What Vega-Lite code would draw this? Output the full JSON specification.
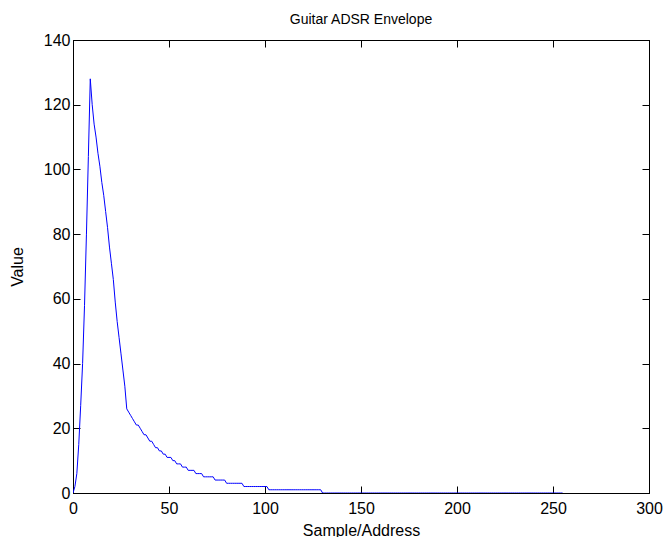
{
  "$schema": "https://vega.github.io/schema/vega-lite/v6.json",
  "autosize": "none",
  "width": 576,
  "height": 453,
  "padding": {"left": 73, "top": 40, "right": 16, "bottom": 44},
  "background": "white",
  "title": {"text": "Guitar ADSR Envelope", "fontSize": 14, "fontWeight": "normal", "font": "Liberation Sans", "color": "black", "anchor": "middle", "baseline": "alphabetic", "offset": -6},
  "config": {
    "font": "Liberation Sans",
    "view": {"stroke": "black", "strokeWidth": 1},
    "axis": {"grid": false, "domainColor": "black", "tickColor": "black", "labelColor": "black", "titleColor": "black", "labelFontSize": 16, "titleFontSize": 16, "titleFontWeight": "normal", "tickSize": -7, "domainWidth": 1, "tickWidth": 1, "labelFlush": false, "labelOverlap": false}
  },
  "data": {"values": [
    {"s":0,"v":0},{"s":1,"v":2},{"s":2,"v":6},{"s":3,"v":15},{"s":4,"v":27},{"s":5,"v":40},{"s":6,"v":58},{"s":7,"v":80},{"s":8,"v":104},{"s":9,"v":128},
    {"s":10,"v":120},{"s":11,"v":114},{"s":12,"v":110},{"s":13,"v":105},{"s":14,"v":101},{"s":15,"v":96},{"s":16,"v":92},{"s":17,"v":87},{"s":18,"v":82},{"s":19,"v":76},
    {"s":20,"v":71},{"s":21,"v":66},{"s":22,"v":59},{"s":23,"v":53},{"s":24,"v":48},{"s":25,"v":43},{"s":26,"v":38},{"s":27,"v":33},{"s":28,"v":26},{"s":29,"v":25},
    {"s":30,"v":24},{"s":31,"v":23},{"s":32,"v":22},{"s":33,"v":21},{"s":34,"v":21},{"s":35,"v":20},{"s":36,"v":19},{"s":37,"v":18},{"s":38,"v":18},{"s":39,"v":17},
    {"s":40,"v":16},{"s":41,"v":16},{"s":42,"v":15},{"s":43,"v":14},{"s":44,"v":14},{"s":45,"v":13},{"s":46,"v":13},{"s":47,"v":12},{"s":48,"v":12},{"s":49,"v":11},
    {"s":50,"v":11},{"s":51,"v":11},{"s":52,"v":10},{"s":53,"v":10},{"s":54,"v":9},{"s":55,"v":9},{"s":56,"v":9},{"s":57,"v":8},{"s":58,"v":8},{"s":59,"v":8},
    {"s":60,"v":7},{"s":61,"v":7},{"s":62,"v":7},{"s":63,"v":7},{"s":64,"v":6},{"s":65,"v":6},{"s":66,"v":6},{"s":67,"v":6},{"s":68,"v":5},{"s":69,"v":5},
    {"s":70,"v":5},{"s":71,"v":5},{"s":72,"v":5},{"s":73,"v":5},{"s":74,"v":4},{"s":75,"v":4},{"s":76,"v":4},{"s":77,"v":4},{"s":78,"v":4},{"s":79,"v":4},
    {"s":80,"v":3},{"s":81,"v":3},{"s":82,"v":3},{"s":83,"v":3},{"s":84,"v":3},{"s":85,"v":3},{"s":86,"v":3},{"s":87,"v":3},{"s":88,"v":3},{"s":89,"v":2},
    {"s":90,"v":2},{"s":91,"v":2},{"s":92,"v":2},{"s":93,"v":2},{"s":94,"v":2},{"s":95,"v":2},{"s":96,"v":2},{"s":97,"v":2},{"s":98,"v":2},{"s":99,"v":2},
    {"s":100,"v":2},{"s":101,"v":2},{"s":102,"v":1},{"s":103,"v":1},{"s":104,"v":1},{"s":105,"v":1},{"s":106,"v":1},{"s":107,"v":1},{"s":108,"v":1},{"s":109,"v":1},
    {"s":110,"v":1},{"s":111,"v":1},{"s":112,"v":1},{"s":113,"v":1},{"s":114,"v":1},{"s":115,"v":1},{"s":116,"v":1},{"s":117,"v":1},{"s":118,"v":1},{"s":119,"v":1},
    {"s":120,"v":1},{"s":121,"v":1},{"s":122,"v":1},{"s":123,"v":1},{"s":124,"v":1},{"s":125,"v":1},{"s":126,"v":1},{"s":127,"v":1},{"s":128,"v":1},{"s":129,"v":1},
    {"s":130,"v":0},{"s":131,"v":0},{"s":132,"v":0},{"s":133,"v":0},{"s":134,"v":0},{"s":135,"v":0},{"s":136,"v":0},{"s":137,"v":0},{"s":138,"v":0},{"s":139,"v":0},
    {"s":140,"v":0},{"s":141,"v":0},{"s":142,"v":0},{"s":143,"v":0},{"s":144,"v":0},{"s":145,"v":0},{"s":146,"v":0},{"s":147,"v":0},{"s":148,"v":0},{"s":149,"v":0},
    {"s":150,"v":0},{"s":151,"v":0},{"s":152,"v":0},{"s":153,"v":0},{"s":154,"v":0},{"s":155,"v":0},{"s":156,"v":0},{"s":157,"v":0},{"s":158,"v":0},{"s":159,"v":0},
    {"s":160,"v":0},{"s":161,"v":0},{"s":162,"v":0},{"s":163,"v":0},{"s":164,"v":0},{"s":165,"v":0},{"s":166,"v":0},{"s":167,"v":0},{"s":168,"v":0},{"s":169,"v":0},
    {"s":170,"v":0},{"s":171,"v":0},{"s":172,"v":0},{"s":173,"v":0},{"s":174,"v":0},{"s":175,"v":0},{"s":176,"v":0},{"s":177,"v":0},{"s":178,"v":0},{"s":179,"v":0},
    {"s":180,"v":0},{"s":181,"v":0},{"s":182,"v":0},{"s":183,"v":0},{"s":184,"v":0},{"s":185,"v":0},{"s":186,"v":0},{"s":187,"v":0},{"s":188,"v":0},{"s":189,"v":0},
    {"s":190,"v":0},{"s":191,"v":0},{"s":192,"v":0},{"s":193,"v":0},{"s":194,"v":0},{"s":195,"v":0},{"s":196,"v":0},{"s":197,"v":0},{"s":198,"v":0},{"s":199,"v":0},
    {"s":200,"v":0},{"s":201,"v":0},{"s":202,"v":0},{"s":203,"v":0},{"s":204,"v":0},{"s":205,"v":0},{"s":206,"v":0},{"s":207,"v":0},{"s":208,"v":0},{"s":209,"v":0},
    {"s":210,"v":0},{"s":211,"v":0},{"s":212,"v":0},{"s":213,"v":0},{"s":214,"v":0},{"s":215,"v":0},{"s":216,"v":0},{"s":217,"v":0},{"s":218,"v":0},{"s":219,"v":0},
    {"s":220,"v":0},{"s":221,"v":0},{"s":222,"v":0},{"s":223,"v":0},{"s":224,"v":0},{"s":225,"v":0},{"s":226,"v":0},{"s":227,"v":0},{"s":228,"v":0},{"s":229,"v":0},
    {"s":230,"v":0},{"s":231,"v":0},{"s":232,"v":0},{"s":233,"v":0},{"s":234,"v":0},{"s":235,"v":0},{"s":236,"v":0},{"s":237,"v":0},{"s":238,"v":0},{"s":239,"v":0},
    {"s":240,"v":0},{"s":241,"v":0},{"s":242,"v":0},{"s":243,"v":0},{"s":244,"v":0},{"s":245,"v":0},{"s":246,"v":0},{"s":247,"v":0},{"s":248,"v":0},{"s":249,"v":0},
    {"s":250,"v":0},{"s":251,"v":0},{"s":252,"v":0},{"s":253,"v":0},{"s":254,"v":0},{"s":255,"v":0}
  ]},
  "layer": [
    {
      "mark": {"type": "line", "color": "#0000FF", "strokeWidth": 1, "clip": true},
      "encoding": {
        "x": {"field": "s", "type": "quantitative", "scale": {"domain": [0, 300], "nice": false, "zero": false},
              "axis": {"orient": "bottom", "values": [0, 50, 100, 150, 200, 250, 300], "labelPadding": 14, "title": "Sample/Address", "titleY": 42, "titleBaseline": "alphabetic", "titleX": 288}},
        "y": {"field": "v", "type": "quantitative", "scale": {"domain": [0, 140], "nice": false, "zero": false},
              "axis": {"orient": "left", "values": [0, 20, 40, 60, 80, 100, 120, 140], "labelPadding": 10, "title": "Value", "titleX": -51, "titleY": 226.5, "titleAngle": -90, "titleBaseline": "alphabetic", "titleAlign": "center"}}
      }
    },
    {
      "mark": {"type": "line", "strokeOpacity": 0},
      "encoding": {
        "x": {"field": "s", "type": "quantitative", "scale": {"domain": [0, 300], "nice": false, "zero": false},
              "axis": {"orient": "top", "values": [0, 50, 100, 150, 200, 250, 300], "labels": false, "title": null}},
        "y": {"field": "v", "type": "quantitative", "scale": {"domain": [0, 140], "nice": false, "zero": false},
              "axis": {"orient": "right", "values": [0, 20, 40, 60, 80, 100, 120, 140], "labels": false, "title": null}}
      }
    }
  ],
  "resolve": {"axis": {"x": "independent", "y": "independent"}}
}
